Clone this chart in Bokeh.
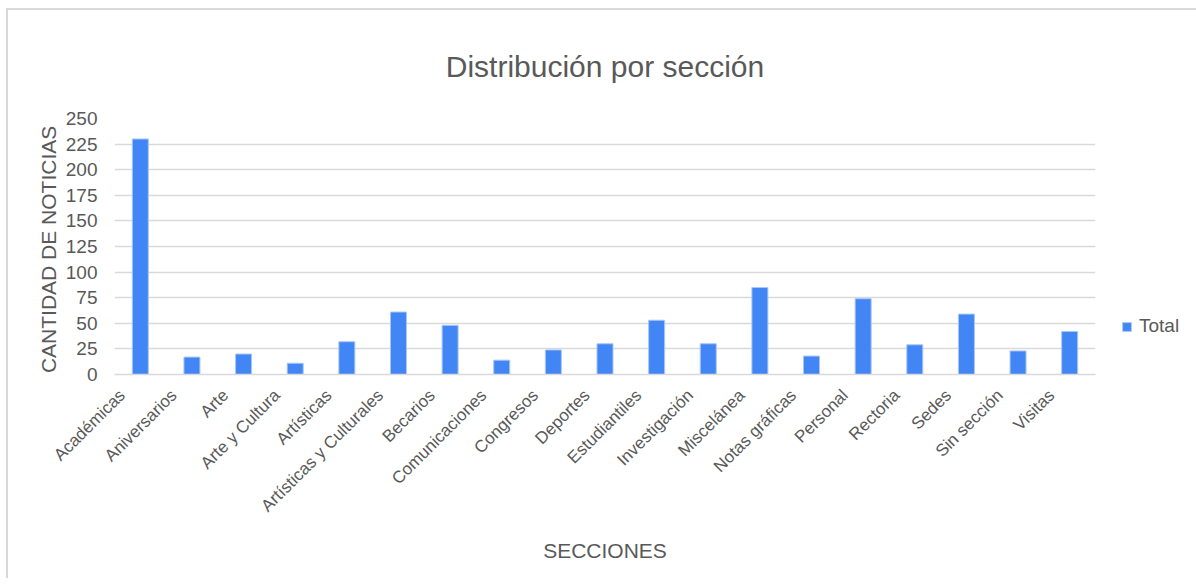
import math
from bokeh.plotting import figure
from bokeh.models import ColumnDataSource, Range1d, FixedTicker, Legend, LegendItem
from bokeh.transform import dodge
from bokeh.embed import file_html
from bokeh.resources import INLINE

secciones = ["Académicas", "Aniversarios", "Arte", "Arte y Cultura", "Artísticas",
             "Artísticas y Culturales", "Becarios", "Comunicaciones", "Congresos",
             "Deportes", "Estudiantiles", "Investigación", "Miscelánea", "Notas gráficas",
             "Personal", "Rectoria", "Sedes", "Sin sección", "Visitas"]
totales = [230, 17, 20, 11, 32, 61, 48, 14, 24, 30, 53, 30, 85, 18, 74, 29, 59, 23, 42]
y_ticks = [0, 25, 50, 75, 100, 125, 150, 175, 200, 225, 250]

FONT = "Liberation Sans"
TXT = "#595959"
GRID = "#d9d9d9"

idx = list(range(len(secciones)))
source = ColumnDataSource(dict(idx=idx, seccion=secciones, total=totales))

# bars sit a bit to the right of their (slanted) category label, as in the original
SHIFT = 0.35

p = figure(frame_width=981, frame_height=256, output_backend="svg", toolbar_location=None,
           x_range=Range1d(-0.5 + SHIFT, len(secciones) - 0.5 + SHIFT),
           y_range=Range1d(0, 250),
           title="Distribución por sección",
           min_border_left=106, min_border_right=101, min_border_top=108, min_border_bottom=204,
           styles={"margin-left": "6px", "margin-top": "8px",
                   "border-left": "2px solid #d9d9d9", "border-top": "2px solid #d9d9d9"})

r = p.vbar(x=dodge("idx", SHIFT), top="total", width=0.31, source=source,
           fill_color="#4285f4", line_color="#a9c6f8", line_width=1)
# transparent twin, used only as a spacer entry in the legend
r_blank = p.vbar(x=dodge("idx", SHIFT), top="total", width=0.31, source=source,
                 fill_alpha=0, line_alpha=0)

p.title.text_font = FONT
p.title.text_font_size = "30px"
p.title.text_font_style = "normal"
p.title.text_color = TXT
p.title.align = "center"
p.title.standoff = 72

p.outline_line_color = None
p.background_fill_color = "white"
p.border_fill_color = "white"

p.xgrid.grid_line_color = None
p.ygrid.grid_line_color = GRID
p.ygrid.grid_line_width = 1.5

p.yaxis.ticker = FixedTicker(ticks=y_ticks)
p.yaxis.axis_line_color = None
p.yaxis.major_tick_line_color = None
p.yaxis.minor_tick_line_color = None
p.yaxis.major_tick_out = 0
p.yaxis.major_label_standoff = 17
p.yaxis.major_label_text_font = FONT
p.yaxis.major_label_text_font_size = "19px"
p.yaxis.major_label_text_color = TXT
p.yaxis.axis_label = "CANTIDAD  DE NOTICIAS"
p.yaxis.axis_label_text_font = FONT
p.yaxis.axis_label_text_font_size = "21px"
p.yaxis.axis_label_text_font_style = "normal"
p.yaxis.axis_label_text_color = TXT
p.yaxis.axis_label_standoff = 3

p.xaxis.ticker = FixedTicker(ticks=idx)
p.xaxis.major_label_overrides = {i: s for i, s in zip(idx, secciones)}
p.xaxis.axis_line_color = GRID
p.xaxis.axis_line_width = 1.5
p.xaxis.major_tick_line_color = None
p.xaxis.minor_tick_line_color = None
p.xaxis.major_tick_out = 0
p.xaxis.major_label_orientation = math.pi / 4
p.xaxis.major_label_standoff = 18
p.xaxis.major_label_text_font = FONT
p.xaxis.major_label_text_font_size = "17px"
p.xaxis.major_label_text_color = TXT
p.xaxis.axis_label = "SECCIONES"
p.xaxis.axis_label_text_font = FONT
p.xaxis.axis_label_text_font_size = "21px"
p.xaxis.axis_label_text_font_style = "normal"
p.xaxis.axis_label_text_color = TXT
p.xaxis.axis_label_standoff = 14

legend = Legend(items=[LegendItem(label="Total", renderers=[r]),
                       LegendItem(label=" ", renderers=[r_blank])],
                location="bottom_left", orientation="vertical",
                glyph_width=11, glyph_height=11, label_standoff=7, spacing=0,
                padding=0, margin=26, border_line_color=None,
                background_fill_alpha=0,
                label_text_font=FONT, label_text_font_size="19px", label_text_color=TXT)
p.add_layout(legend, "right")

open("out.html", "w").write(file_html(p, INLINE))
